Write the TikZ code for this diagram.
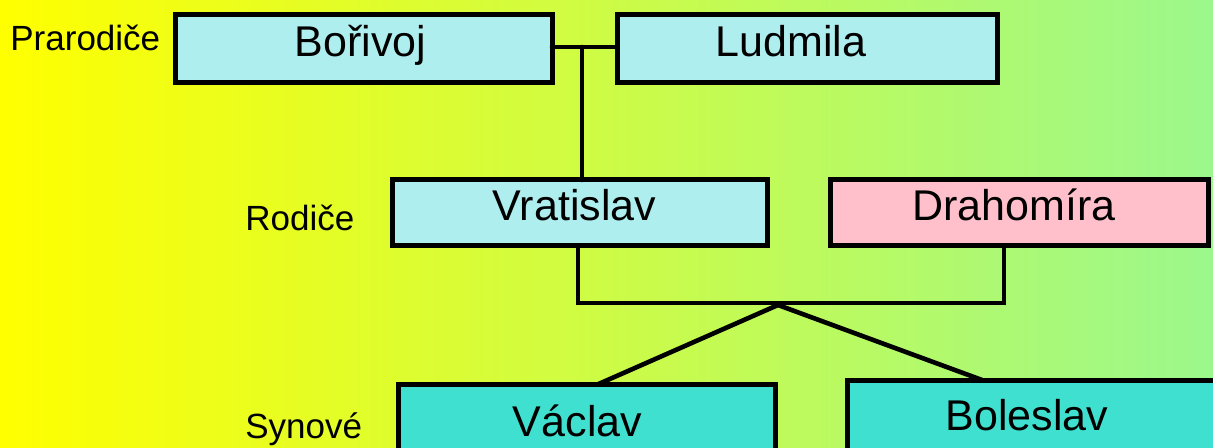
\documentclass[tikz,border=0pt]{standalone}
\usepackage{fontspec}
\setmainfont{Liberation Sans}
\definecolor{bgleft}{RGB}{255,255,0}
\definecolor{bgright}{RGB}{155,248,140}
\definecolor{paleblue}{RGB}{175,238,238}
\definecolor{pinkbox}{RGB}{255,192,203}
\definecolor{turq}{RGB}{64,224,208}
\begin{document}
\begin{tikzpicture}[x=0.5pt,y=-0.5pt,
  person/.style={draw=black,line width=2.5pt,font=\fontsize{21.5pt}{24pt}\selectfont,
    text height=12pt,text depth=4pt,inner sep=0pt,outer sep=0pt},
  lvl/.style={font=\fontsize{17.5pt}{20pt}\selectfont,anchor=base west,inner sep=0pt},
  link/.style={line width=2.3pt,line cap=round}]
\useasboundingbox (0,0) rectangle (1213,448);
\shade[left color=bgleft,right color=bgright] (0,0) rectangle (1213,448);
% level labels
\node[lvl] (l1) at (10,51) {Prarodiče};
\node[lvl] (l2) at (245,231) {Rodiče};
\node[lvl] (l3) at (245,438) {Synové};
% people
\node[person,fill=paleblue,minimum width=188.5pt,minimum height=34pt] (bor) at (363.5,49) {Bořivoj\hspace*{3pt}};
\node[person,fill=paleblue,minimum width=190pt,minimum height=34pt] (lud) at (807,49) {Ludmila\hspace*{16pt}};
\node[person,fill=paleblue,minimum width=187.5pt,minimum height=33pt] (vra) at (579.5,213) {Vratislav\hspace*{5pt}};
\node[person,fill=pinkbox,minimum width=189pt,minimum height=33pt] (dra) at (1019,213) {Drahomíra\hspace*{5pt}};
\node[person,fill=turq,minimum width=188.5pt,minimum height=44pt] (vac) at (586.5,428) {Václav\hspace*{9pt}};
\node[person,fill=turq,minimum width=184pt,minimum height=42pt] (bol) at (1031,422) {Boleslav\hspace*{4pt}};
% junction coordinates
\coordinate (m1) at (582,47);
\coordinate (jl) at (578,303);
\coordinate (jr) at (1004,303);
\coordinate (ap) at (778,305);
% connectors
\draw[link] (bor.east |- m1) -- (lud.west |- m1);
\draw[link] (m1) -- (vra.north -| m1);
\draw[link] (vra.south -| jl) -- (jl) -- (jr) -- (dra.south -| jr);
\draw[link] (ap) -- ([xshift=6pt]vac.north);
\draw[link] (ap) -- ([xshift=-24.5pt]bol.north);
\end{tikzpicture}
\end{document}
